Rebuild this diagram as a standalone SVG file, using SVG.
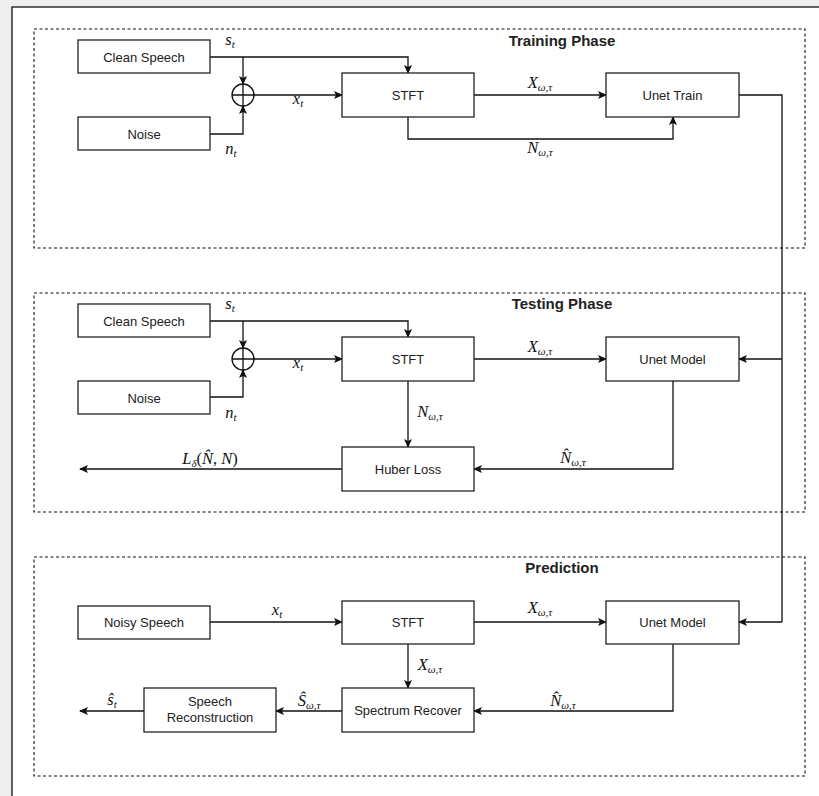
<svg xmlns="http://www.w3.org/2000/svg" width="819" height="796" viewBox="0 0 819 796">
<style>
.box{fill:#fff;stroke:#222;stroke-width:1.3}
.phase{fill:none;stroke:#111;stroke-width:1.1;stroke-dasharray:3,2.5}
.lbl{font-family:"Liberation Sans",Arial,sans-serif;font-size:13px;fill:#222;text-anchor:middle}
.title{font-family:"Liberation Sans",Arial,sans-serif;font-size:15px;font-weight:bold;fill:#222;text-anchor:middle}
.m{font-family:"Liberation Serif","DejaVu Serif",serif;font-style:italic;font-size:16.5px;fill:#111;text-anchor:middle}
.sub{font-size:11px}
.ln{fill:none;stroke:#111;stroke-width:1.3}
.arr{marker-end:url(#ah)}
</style>
<defs>
<marker id="ah" markerWidth="10" markerHeight="8" refX="8" refY="4" orient="auto" markerUnits="userSpaceOnUse">
<path d="M0,0 L9,4 L0,8 L2,4 z" fill="#111"/>
</marker>
</defs>
<rect x="0" y="0" width="819" height="796" fill="#eeeeee"/>
<rect x="12" y="7" width="820" height="800" fill="#fff" stroke="#111" stroke-width="1.3"/>

<g id="phases">
<rect class="phase" x="34" y="29" width="771" height="219"/>
<rect class="phase" x="34" y="293" width="771" height="219"/>
<rect class="phase" x="34" y="557" width="771" height="219"/>
<text class="title" x="562" y="46">Training Phase</text>
<text class="title" x="562" y="309">Testing Phase</text>
<text class="title" x="562" y="573">Prediction</text>
</g>

<g id="connectors">
<path class="ln arr" d="M210,57 H408 V73"/>
<path class="ln arr" d="M243,57 V84"/>
<path class="ln arr" d="M210,134 H243 V106"/>
<path class="ln arr" d="M254,95 H342"/>
<path class="ln arr" d="M474,95 H606"/>
<path class="ln arr" d="M408,117 V139 H673 V117"/>
<path class="ln" d="M739,95 H782 V622"/>
<path class="ln arr" d="M210,321 H408 V337"/>
<path class="ln arr" d="M243,321 V348"/>
<path class="ln arr" d="M210,397 H243 V370"/>
<path class="ln arr" d="M254,359 H342"/>
<path class="ln arr" d="M474,359 H606"/>
<path class="ln arr" d="M782,359 H739"/>
<path class="ln arr" d="M408,381 V447"/>
<path class="ln arr" d="M673,381 V469 H474"/>
<path class="ln arr" d="M342,469 H80"/>
<path class="ln arr" d="M210,622 H342"/>
<path class="ln arr" d="M474,622 H606"/>
<path class="ln arr" d="M782,622 H739"/>
<path class="ln arr" d="M408,644 V688"/>
<path class="ln arr" d="M673,644 V711 H474"/>
<path class="ln arr" d="M342,711 H276"/>
<path class="ln arr" d="M144,711 H80"/>
</g>

<g id="sum1"><circle cx="243" cy="95" r="11" fill="#fff" stroke="#111" stroke-width="1.3"/><path class="ln" d="M232,95 H254 M243,84 V106"/></g>
<g id="sum2"><circle cx="243" cy="359" r="11" fill="#fff" stroke="#111" stroke-width="1.3"/><path class="ln" d="M232,359 H254 M243,348 V370"/></g>

<g id="train-clean"><rect class="box" x="78" y="40" width="132" height="33"/><text class="lbl" x="144" y="61.5">Clean Speech</text></g>
<g id="train-noise"><rect class="box" x="78" y="117" width="132" height="33"/><text class="lbl" x="144" y="138.5">Noise</text></g>
<g id="train-stft"><rect class="box" x="342" y="73" width="132" height="44"/><text class="lbl" x="408" y="99.5">STFT</text></g>
<g id="train-unet"><rect class="box" x="606" y="73" width="133" height="44"/><text class="lbl" x="672.5" y="99.5">Unet Train</text></g>

<g id="test-clean"><rect class="box" x="78" y="304" width="132" height="33"/><text class="lbl" x="144" y="325.5">Clean Speech</text></g>
<g id="test-noise"><rect class="box" x="78" y="381" width="132" height="33"/><text class="lbl" x="144" y="402.5">Noise</text></g>
<g id="test-stft"><rect class="box" x="342" y="337" width="132" height="44"/><text class="lbl" x="408" y="363.5">STFT</text></g>
<g id="test-unet"><rect class="box" x="606" y="337" width="133" height="44"/><text class="lbl" x="672.5" y="363.5">Unet Model</text></g>
<g id="test-huber"><rect class="box" x="342" y="447" width="132" height="44"/><text class="lbl" x="408" y="473.5">Huber Loss</text></g>

<g id="pred-noisy"><rect class="box" x="78" y="606" width="132" height="33"/><text class="lbl" x="144" y="627">Noisy Speech</text></g>
<g id="pred-stft"><rect class="box" x="342" y="601" width="132" height="43"/><text class="lbl" x="408" y="627">STFT</text></g>
<g id="pred-unet"><rect class="box" x="606" y="601" width="133" height="43"/><text class="lbl" x="672.5" y="627">Unet Model</text></g>
<g id="pred-recover"><rect class="box" x="342" y="688" width="132" height="44"/><text class="lbl" x="408" y="715">Spectrum Recover</text></g>
<g id="pred-recon"><rect class="box" x="144" y="688" width="132" height="44"/><text class="lbl" x="210" y="706">Speech</text><text class="lbl" x="210" y="722">Reconstruction</text></g>

<g id="labels">
<text class="m" x="230" y="45">s<tspan class="sub" dy="3">t</tspan></text>
<text class="m" x="298" y="104">x<tspan class="sub" dy="3">t</tspan></text>
<text class="m" x="231" y="154">n<tspan class="sub" dy="3">t</tspan></text>
<text class="m" x="540" y="88">X<tspan class="sub" dy="3">ω,τ</tspan></text>
<text class="m" x="540" y="153">N<tspan class="sub" dy="3">ω,τ</tspan></text>

<text class="m" x="230" y="309">s<tspan class="sub" dy="3">t</tspan></text>
<text class="m" x="298" y="368">x<tspan class="sub" dy="3">t</tspan></text>
<text class="m" x="231" y="418">n<tspan class="sub" dy="3">t</tspan></text>
<text class="m" x="540" y="352">X<tspan class="sub" dy="3">ω,τ</tspan></text>
<text class="m" x="430" y="417">N<tspan class="sub" dy="3">ω,τ</tspan></text>
<text class="m" x="573" y="463">N̂<tspan class="sub" dy="3">ω,τ</tspan></text>
<text class="m" x="210" y="464">L<tspan class="sub" dy="3">δ</tspan><tspan dy="-3" font-style="normal">(</tspan>N̂<tspan font-style="normal">, </tspan>N<tspan font-style="normal">)</tspan></text>

<text class="m" x="277" y="615">x<tspan class="sub" dy="3">t</tspan></text>
<text class="m" x="540" y="613">X<tspan class="sub" dy="3">ω,τ</tspan></text>
<text class="m" x="430" y="670">X<tspan class="sub" dy="3">ω,τ</tspan></text>
<text class="m" x="563" y="706">N̂<tspan class="sub" dy="3">ω,τ</tspan></text>
<text class="m" x="309" y="706">Ŝ<tspan class="sub" dy="3">ω,τ</tspan></text>
<text class="m" x="112" y="705">ŝ<tspan class="sub" dy="3">t</tspan></text>
</g>
</svg>
